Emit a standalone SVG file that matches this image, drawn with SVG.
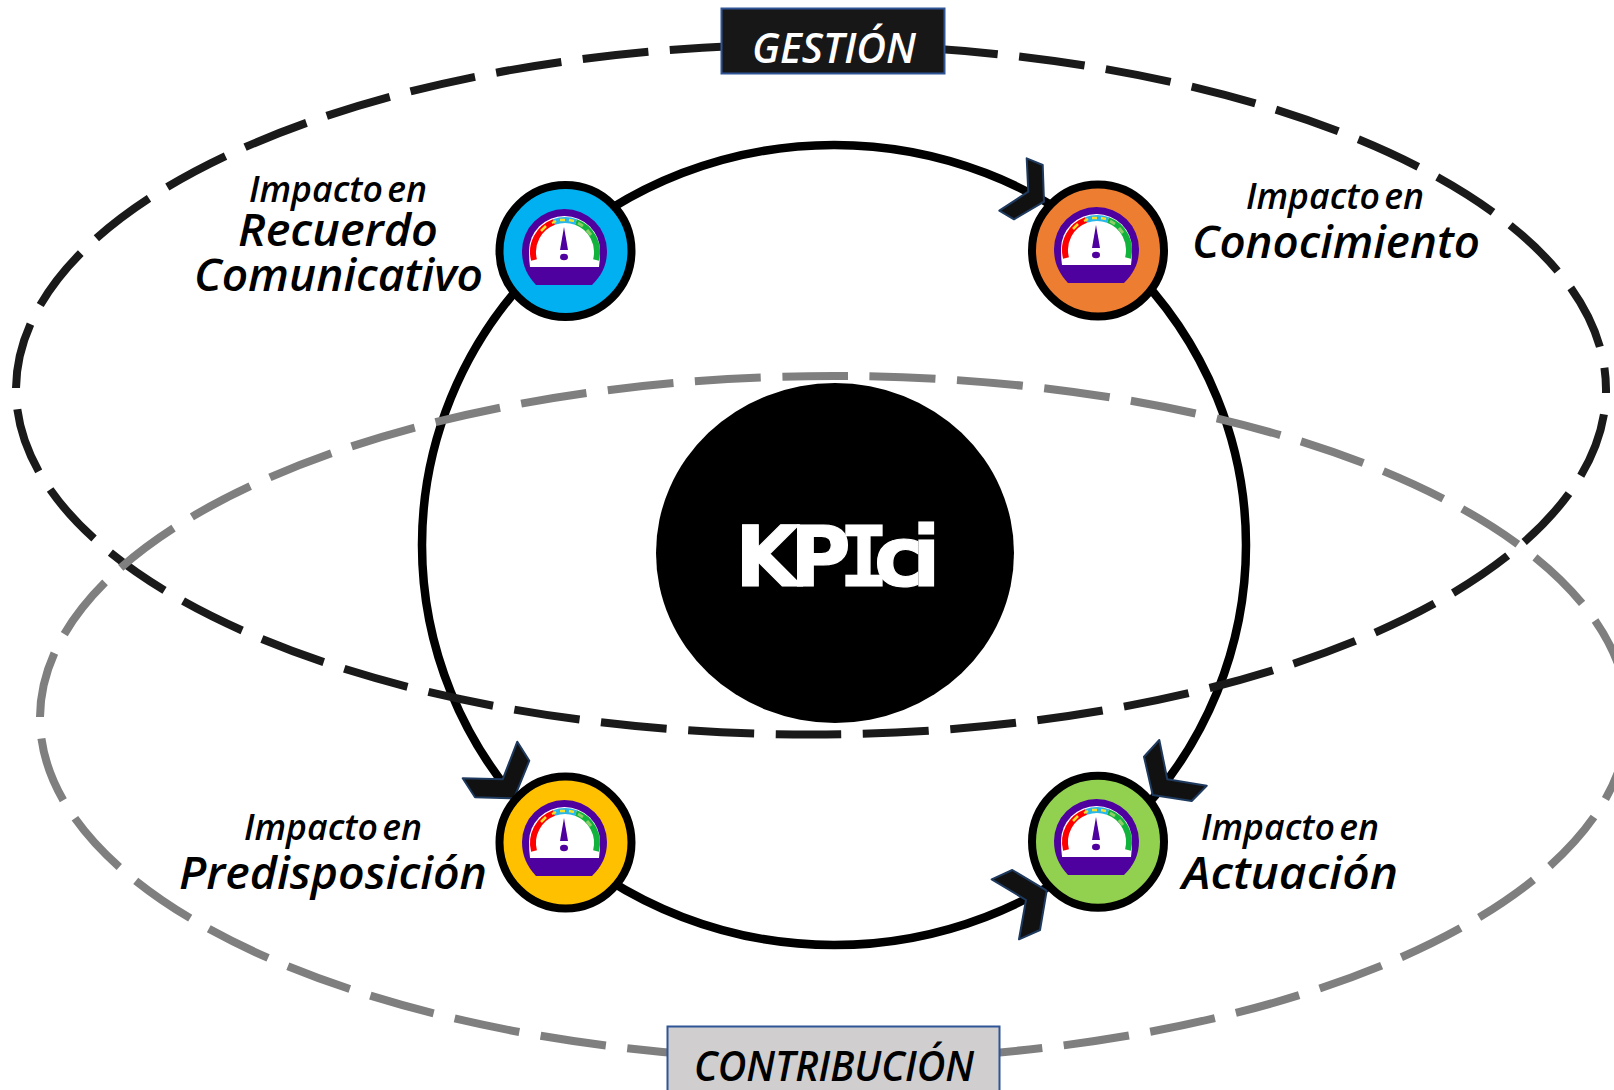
<svg xmlns="http://www.w3.org/2000/svg" width="1614" height="1090" viewBox="0 0 1614 1090">
<style>
.ring{fill:none;stroke:#000;stroke-width:8.5}
.dash{fill:none;stroke-width:8;stroke-dasharray:66 21.5}
.node{stroke:#000;stroke-width:8}
.head{fill:#111;stroke:#1f3a5f;stroke-width:2;stroke-linejoin:round}
text{font-family:"Open Sans","Noto Sans",sans-serif;font-style:italic;font-weight:600;fill:#000}
.sm{font-size:36px;word-spacing:-5px}
.lg{font-size:46px}
.tag{font-size:42px}
.kpi{font-family:"DejaVu Sans",sans-serif;font-style:normal;font-weight:700;font-size:83px;fill:#fff;stroke:#fff;stroke-width:1.2}
.mono{font-family:"DejaVu Sans Mono",monospace}
</style>
<defs>
<g id="gauge">
<path d="M-29 34 C-38 24 -43 14 -43 0 A42.5 42 0 0 1 42 0 C42 14 37 24 27 34Z" fill="#4f019f"/>
<path d="M-35 16 Q-36 8 -36 0 A35.5 35 0 0 1 35 0 Q35 8 34 16Z" fill="#fff"/>
<path d="M-31 9 A32 32 0 0 1 -11 -29" fill="none" stroke="#f00" stroke-width="6"/>
<path d="M-11 -29 A32 32 0 0 1 11 -29" fill="none" stroke="#29b6e8" stroke-width="6"/>
<path d="M11 -29 A32 32 0 0 1 31 9" fill="none" stroke="#12b33c" stroke-width="6"/>
<path d="M-24 -20 L-19 -25 M-13 -28 L-9 -30 M-5 -31 L0 -31 M4 -31 L9 -30" fill="none" stroke="#f5e12a" stroke-width="2.5"/>
<path d="M13 -28 L18 -25 M22 -21 L26 -16" fill="none" stroke="#8fcf6a" stroke-width="3"/>
<path d="M-1 -24 L3 -1 H-5Z" fill="#4f019f"/>
<ellipse cx="-1" cy="6" rx="4" ry="3.2" fill="#4f019f"/>
</g>
</defs>
<g id="connectors">
<ellipse class="ring" cx="834" cy="545" rx="412" ry="400"/>
<ellipse class="dash" stroke="#1a1a1a" stroke-dashoffset="-25" cx="811" cy="389.5" rx="795" ry="345"/>
<ellipse class="dash" stroke="#7f7f7f" stroke-dashoffset="-19" cx="834" cy="718" rx="794" ry="342"/>
<polygon class="head" points="1026.7,158.3 1042.7,165 1044,201.7 1014,219.3 999.3,210.7 1028.3,191.7"/>
<polygon class="head" points="517.3,741.7 529.3,760.7 514,798.3 475,797.3 462.7,778.3 502.7,779.3"/>
<polygon class="head" points="1159.3,740 1144,756.7 1152.7,795 1191.7,801 1206.7,785.7 1167.3,779.3"/>
<polygon class="head" points="991.7,879.3 1012.3,870 1046.7,890.7 1040,930 1019,939.3 1026,900"/>
</g>
<g id="kpi">
<ellipse cx="835" cy="553" rx="179" ry="170"/>
<text class="kpi" y="586"><tspan x="735">K</tspan><tspan x="790">P</tspan><tspan x="839" class="mono">I</tspan><tspan x="874">c</tspan><tspan x="912">i</tspan></text>
</g>
<g id="node-recuerdo">
<circle class="node" cx="565.5" cy="251" r="66" fill="#00b0f0"/>
<use href="#gauge" x="565" y="251"/>
<text class="sm" x="249" y="202" textLength="178" lengthAdjust="spacingAndGlyphs">Impacto en</text>
<text class="lg" x="238" y="246" textLength="200" lengthAdjust="spacingAndGlyphs">Recuerdo</text>
<text class="lg" x="194" y="291" textLength="289" lengthAdjust="spacingAndGlyphs">Comunicativo</text>
</g>
<g id="node-conocimiento">
<circle class="node" cx="1098" cy="250.5" r="66" fill="#ed7d31"/>
<use href="#gauge" x="1097" y="249"/>
<text class="sm" x="1246" y="209" textLength="178" lengthAdjust="spacingAndGlyphs">Impacto en</text>
<text class="lg" x="1192" y="258" textLength="288" lengthAdjust="spacingAndGlyphs">Conocimiento</text>
</g>
<g id="node-predisposicion">
<circle class="node" cx="565.5" cy="842.5" r="66" fill="#ffc000"/>
<use href="#gauge" x="565" y="842"/>
<text class="sm" x="244" y="840" textLength="178" lengthAdjust="spacingAndGlyphs">Impacto en</text>
<text class="lg" x="179" y="889" textLength="308" lengthAdjust="spacingAndGlyphs">Predisposición</text>
</g>
<g id="node-actuacion">
<circle class="node" cx="1098" cy="841.7" r="66" fill="#92d050"/>
<use href="#gauge" x="1097" y="841"/>
<text class="sm" x="1201" y="840" textLength="178" lengthAdjust="spacingAndGlyphs">Impacto en</text>
<text class="lg" x="1182" y="889" textLength="216" lengthAdjust="spacingAndGlyphs">Actuación</text>
</g>
<g id="tag-gestion">
<rect x="721.5" y="8.5" width="223" height="65" fill="#171717" stroke="#2f5597" stroke-width="2"/>
<text class="tag" x="752" y="63" textLength="164" lengthAdjust="spacingAndGlyphs" style="fill:#fff">GESTIÓN</text>
</g>
<g id="tag-contribucion">
<rect x="667.5" y="1026.5" width="332" height="70" fill="#d0cece" stroke="#2f5597" stroke-width="2"/>
<text class="tag" x="694" y="1081" textLength="280" lengthAdjust="spacingAndGlyphs">CONTRIBUCIÓN</text>
</g>
</svg>
